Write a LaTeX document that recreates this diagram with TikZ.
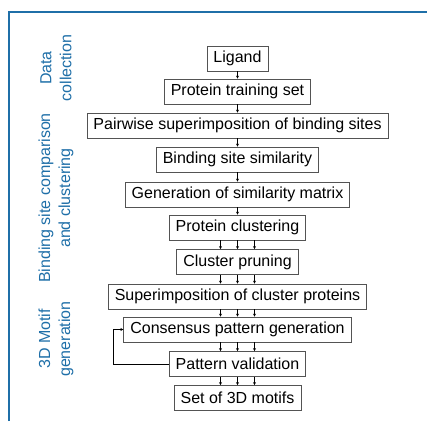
\documentclass[tikz,border=0pt]{standalone}
\usepackage{fontspec}
\setmainfont{Liberation Sans}
\usetikzlibrary{arrows.meta}
\definecolor{frameblue}{RGB}{31,111,168}
\begin{document}
\begin{tikzpicture}[x=1pt,y=-1pt,
  stepbox/.style={draw=gray!65!black, line width=0.8pt, fill=white,
    minimum height=25pt, inner ysep=0pt, inner xsep=6.5pt,
    font=\fontsize{16}{18}\selectfont, text=black},
  flow/.style={-{Stealth[length=3pt,width=3pt]}, line width=0.6pt, black},
  sidelabel/.style={rotate=90, align=center, text=frameblue,
    font=\fontsize{16}{20}\selectfont},
  frameline/.style={draw=frameblue, line width=2pt}]
\useasboundingbox (0,0) rectangle (427,421);
\draw[frameline] (9,421) -- (9,11.5) -- (427,11.5);

\node[stepbox] (lig) at (237.5,58.5) {Ligand};
\node[stepbox] (pts) at (237.5,91.5) {Protein training set};
\node[stepbox] (pair) at (237.5,125.5) {Pairwise superimposition of binding sites};
\node[stepbox] (bss) at (237.5,159.5) {Binding site similarity};
\node[stepbox] (gen) at (237.5,194.5) {Generation of similarity matrix};
\node[stepbox] (pc) at (237.5,227.5) {Protein clustering};
\node[stepbox] (cp) at (237.5,262) {Cluster pruning};
\node[stepbox] (sup) at (237.5,296.5) {Superimposition of cluster proteins};
\node[stepbox] (cons) at (237.5,329.5) {Consensus pattern generation};
\node[stepbox] (pv) at (237.5,364) {Pattern validation};
\node[stepbox] (set) at (237.5,398) {Set of 3D motifs};

\foreach \a/\b in {lig/pts,pts/pair,pair/bss,bss/gen,gen/pc}
  \draw[flow] (\a.south) -- (\b.north);
\foreach \a/\b in {pc/cp,cp/sup,sup/cons,cons/pv,pv/set}
  \foreach \dx in {-17,0,17}
    \draw[flow] ([xshift=\dx pt]\a.south) -- ([xshift=\dx pt]\b.north);

\coordinate (fb) at (113,364);
\draw[flow] (pv.west) -- (fb) -- (fb |- cons.west) -- (cons.west);

\node[sidelabel] (l1) at (56,68) {Data\\collection};
\node[sidelabel] (l2) at (56,198) {Binding site comparison\\and clustering};
\node[sidelabel] (l3) at (56,339) {3D Motif\\generation};
\end{tikzpicture}
\end{document}
